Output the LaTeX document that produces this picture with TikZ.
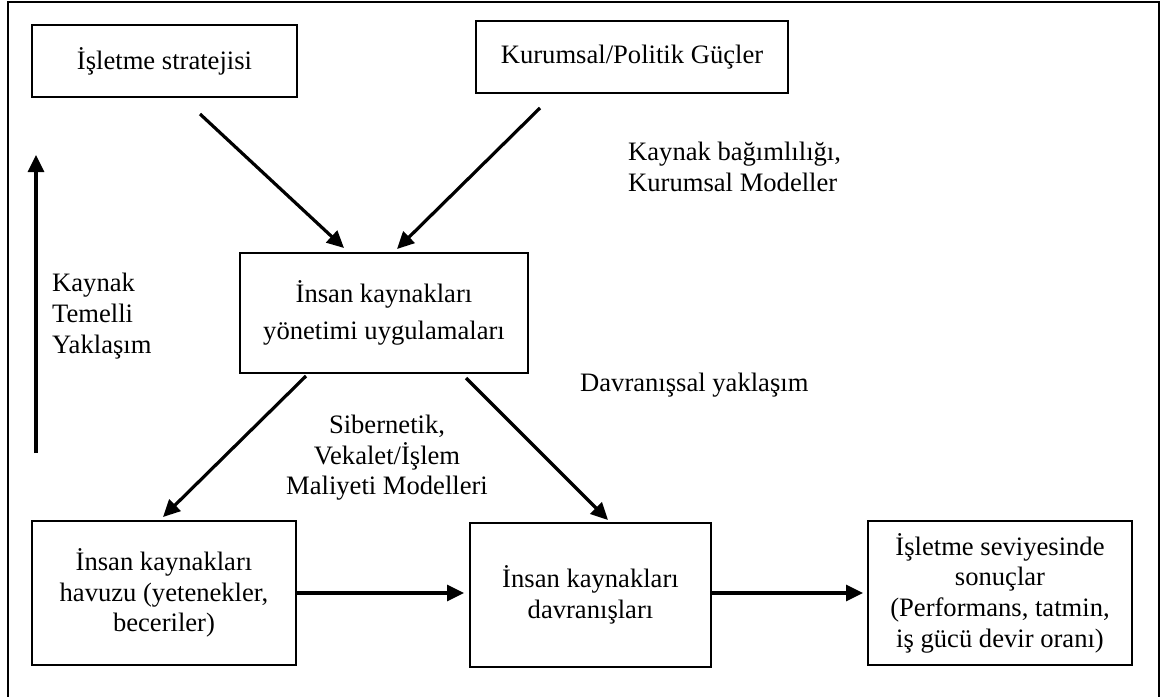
\documentclass[tikz,border=0pt]{standalone}
\usepackage{fontspec}
\setmainfont{Liberation Serif}
\usetikzlibrary{arrows.meta}

\begin{document}
\begin{tikzpicture}[x=1pt,y=-1pt,
  every node/.style={font=\fontsize{26.6}{30.6}\selectfont, inner sep=0pt},
  box/.style={draw, line width=2pt, align=center},
  flow/.style={line width=3.2pt, -{Triangle[length=17pt,width=16pt]}},
  caption/.style={align=left}
]
\useasboundingbox (0,0) rectangle (1161,696);

% outer frame, open at the bottom
\draw[line width=2pt] (8,700) -- (8,1.5) -- (1159,1.5) -- (1159,700);

% boxes
\node[box, minimum width=265, minimum height=72] (strat) at (164.5,61) {İşletme stratejisi};
\node[box, minimum width=312, minimum height=72] (kurum) at (632,57) {Kurumsal/Politik Güçler};
\node[box, minimum width=288, minimum height=120,
      font=\fontsize{26.6}{37}\selectfont] (hrm) at (384,313) {İnsan kaynakları\\yönetimi uygulamaları};
\node[box, minimum width=264, minimum height=144] (pool) at (164,593) {İnsan kaynakları\\havuzu (yetenekler,\\beceriler)};
\node[box, minimum width=241, minimum height=144] (beh) at (590.5,595) {İnsan kaynakları\\davranışları};
\node[box, minimum width=264, minimum height=144] (out) at (1000,593) {İşletme seviyesinde\\sonuçlar\\(Performans, tatmin,\\iş gücü devir oranı)};

% labels
\node[caption, anchor=west] (lblkm) at (628,167) {Kaynak bağımlılığı,\\Kurumsal Modeller};
\node[caption, anchor=west] (lbldv) at (580,385) {Davranışsal yaklaşım};
\node[caption, anchor=west] (lblkt) at (52,316) {Kaynak\\Temelli\\Yaklaşım};
\node[align=center] (lblsb) at (387,458) {Sibernetik,\\Vekalet/İşlem\\Maliyeti Modelleri};

% connectors
\draw[flow] ([shift={(35.5,16)}]strat.south) -- ([shift={(-40,-4)}]hrm.north);
\draw[flow] ([shift={(-92,14)}]kurum.south) -- ([shift={(13,-3)}]hrm.north);
\draw[flow] ([shift={(-78,2)}]hrm.south) -- ([shift={(-1,-3)}]pool.north);
\draw[flow] ([shift={(82,4)}]hrm.south) -- ([shift={(17.5,-2)}]beh.north);
\draw[flow] (pool.east) -- ([shift={(-5,-2)}]beh.west);
\draw[flow] ([shift={(0,-2)}]beh.east) -- ([shift={(-4,0)}]out.west);

% vertical arrow beside the resource-based label
\coordinate (rbvlow) at (36,453);
\coordinate (rbvhigh) at (36,155);
\draw[flow] (rbvlow) -- (rbvhigh);
\end{tikzpicture}
\end{document}
